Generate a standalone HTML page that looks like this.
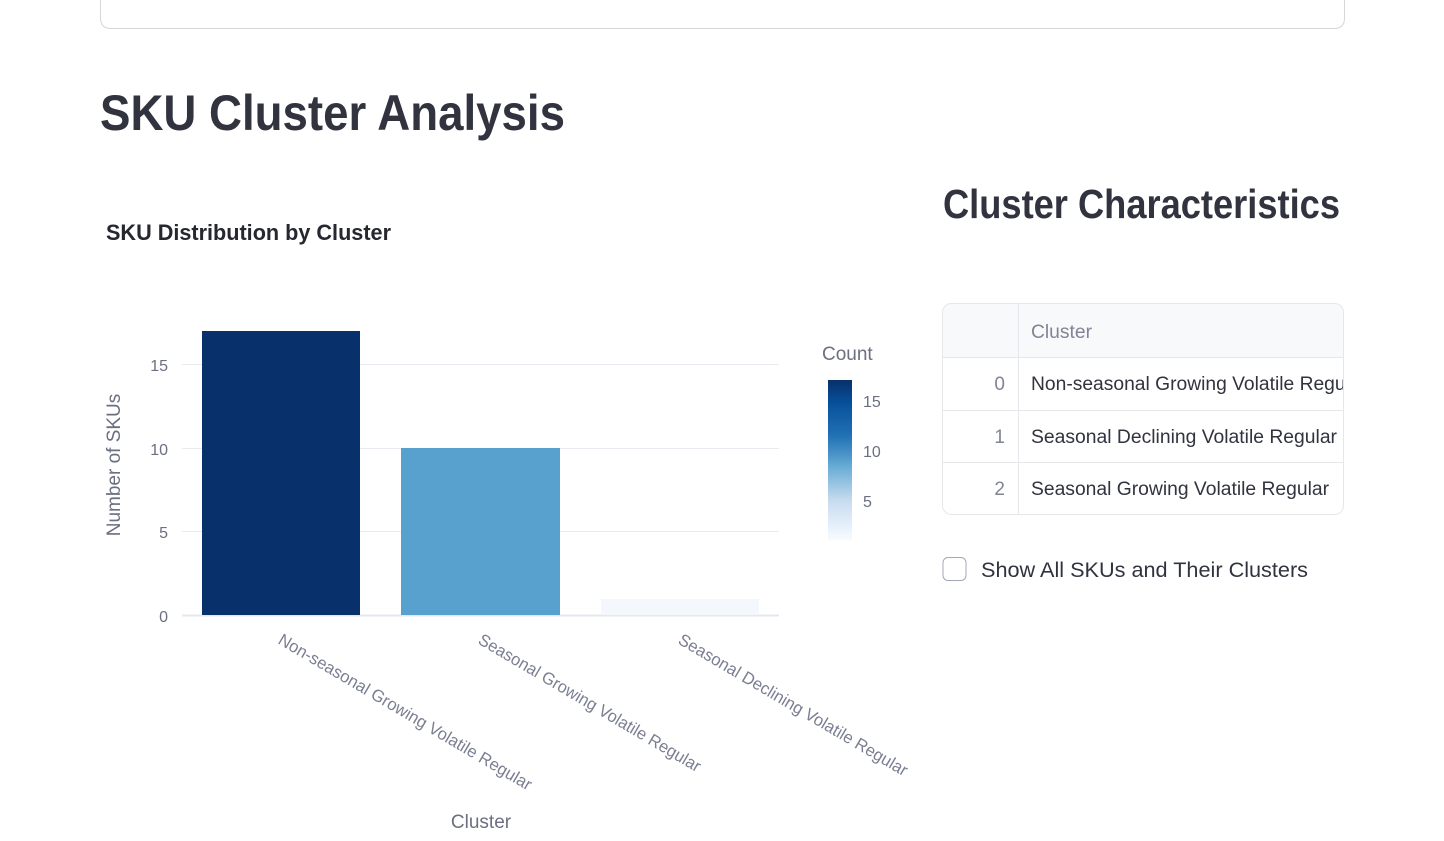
<!DOCTYPE html>
<html><head><meta charset="utf-8"><style>
html,body{margin:0;padding:0;background:#fff;width:1444px;height:841px;overflow:hidden}
svg{display:block}
</style></head><body>
<svg width="1444" height="841" viewBox="0 0 1444 841" xmlns="http://www.w3.org/2000/svg" font-family="Liberation Sans, sans-serif">
<defs>
<linearGradient id="cb" x1="0" y1="0" x2="0" y2="1">
<stop offset="0" stop-color="#08306b"/>
<stop offset="0.15" stop-color="#08519c"/>
<stop offset="0.35" stop-color="#2171b5"/>
<stop offset="0.55" stop-color="#6baed6"/>
<stop offset="0.75" stop-color="#c6dbef"/>
<stop offset="1" stop-color="#f7fbff"/>
</linearGradient>
<clipPath id="tc"><rect x="942" y="303" width="402" height="212" rx="9"/></clipPath>
</defs>
<path d="M100.5 -5 V18 Q100.5 28.5 111 28.5 H1334 Q1344.5 28.5 1344.5 18 V-5" fill="none" stroke="#d6d6d9" stroke-width="1"/>
<text x="100" y="130" font-size="50" font-weight="bold" fill="#31333f" textLength="465" lengthAdjust="spacingAndGlyphs">SKU Cluster Analysis</text>
<text x="106" y="240" font-size="22" font-weight="bold" fill="#262730" textLength="285" lengthAdjust="spacingAndGlyphs">SKU Distribution by Cluster</text>
<g stroke="#e8ebf0" stroke-width="1">
<line x1="182" y1="364.5" x2="779" y2="364.5"/>
<line x1="182" y1="448.5" x2="779" y2="448.5"/>
<line x1="182" y1="531.5" x2="779" y2="531.5"/>
</g>
<line x1="182" y1="615.5" x2="779" y2="615.5" stroke="#e3e7ef" stroke-width="2"/>
<g font-size="16" fill="#6b6f80" text-anchor="end">
<text x="168" y="371">15</text><text x="168" y="455">10</text><text x="168" y="538">5</text><text x="168" y="622">0</text>
</g>
<text transform="translate(120,465) rotate(-90)" font-size="19" fill="#6b6f80" text-anchor="middle">Number of SKUs</text>
<rect x="202" y="331" width="158" height="284" fill="#08306b"/>
<rect x="401" y="448" width="159" height="167" fill="#58a1cf"/>
<rect x="601" y="599" width="158" height="16" fill="#f4f8fd"/>
<g font-size="17" fill="#7a7e91">
<text transform="translate(277,643) rotate(30.5)" textLength="291" lengthAdjust="spacingAndGlyphs">Non-seasonal Growing Volatile Regular</text>
<text transform="translate(477,643) rotate(30.5)" textLength="255" lengthAdjust="spacingAndGlyphs">Seasonal Growing Volatile Regular</text>
<text transform="translate(677,643) rotate(30.5)" textLength="263" lengthAdjust="spacingAndGlyphs">Seasonal Declining Volatile Regular</text>
</g>
<text x="481" y="828" font-size="19" fill="#6b6f80" text-anchor="middle">Cluster</text>
<text x="822" y="360" font-size="19" fill="#6b6f80">Count</text>
<rect x="828" y="380" width="24" height="160" fill="url(#cb)"/>
<g font-size="16" fill="#6b6f80">
<text x="863" y="407">15</text><text x="863" y="457">10</text><text x="863" y="507">5</text>
</g>
<text x="943" y="218" font-size="41" font-weight="bold" fill="#31333f" textLength="397" lengthAdjust="spacingAndGlyphs">Cluster Characteristics</text>
<g clip-path="url(#tc)">
<rect x="942" y="303" width="402" height="54" fill="#f8f9fb"/>
<line x1="942" y1="357.5" x2="1344" y2="357.5" stroke="#e6e7ea"/>
<line x1="942" y1="410.5" x2="1344" y2="410.5" stroke="#e6e7ea"/>
<line x1="942" y1="462.5" x2="1344" y2="462.5" stroke="#e6e7ea"/>
<line x1="1018.5" y1="303" x2="1018.5" y2="515" stroke="#e6e7ea"/>
<g font-size="19">
<text x="1031" y="338" fill="#808495" textLength="61" lengthAdjust="spacingAndGlyphs">Cluster</text>
<text x="1005" y="390" fill="#808495" text-anchor="end">0</text>
<text x="1005" y="443" fill="#808495" text-anchor="end">1</text>
<text x="1005" y="495" fill="#808495" text-anchor="end">2</text>
<text x="1031" y="390" fill="#31333f" textLength="336" lengthAdjust="spacingAndGlyphs">Non-seasonal Growing Volatile Regular</text>
<text x="1031" y="443" fill="#31333f" textLength="306" lengthAdjust="spacingAndGlyphs">Seasonal Declining Volatile Regular</text>
<text x="1031" y="495" fill="#31333f" textLength="298" lengthAdjust="spacingAndGlyphs">Seasonal Growing Volatile Regular</text>
</g>
</g>
<rect x="942.5" y="303.5" width="401" height="211" rx="9" fill="none" stroke="#e6e7ea"/>
<rect x="943" y="557.5" width="23" height="23" rx="5" fill="#fff" stroke="#a3a8b8" stroke-width="1"/>
<text x="981" y="577" font-size="21" fill="#31333f" textLength="327" lengthAdjust="spacingAndGlyphs">Show All SKUs and Their Clusters</text>
</svg>
</body></html>
